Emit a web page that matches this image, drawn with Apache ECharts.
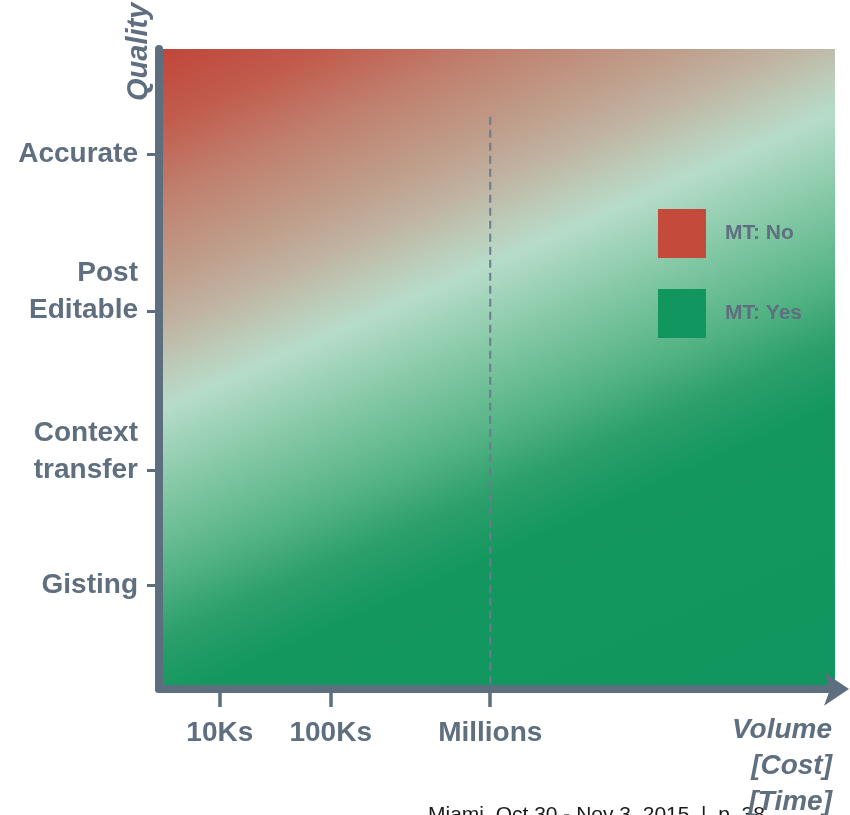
<!DOCTYPE html>
<html>
<head>
<meta charset="utf-8">
<script src="https://cdn.jsdelivr.net/npm/echarts@6/dist/echarts.min.js"></script>
<style>
html,body{margin:0;padding:0;background:#fff;}
#chart{width:850px;height:815px;}
</style>
</head>
<body>
<div id="chart"></div>
<script>
// ---- data ----
var xTickValues = [9, 25.4, 49];
var xTickLabels = ['10Ks', '100Ks', 'Millions'];
var yTickValues = [16.25, 34.2, 59.1, 83.6];
var yTickLabels = ['Gisting', 'Context\ntransfer', 'Post\nEditable', 'Accurate'];
var xExtent = [0, 100];
var yExtent = [0, 100];
var legendNames = ['MT: No', 'MT: Yes'];
var legendColors = ['#c44a3c', '#11965f'];
var dividerX = [49, 49];
var dividerY = [89.4, 0];
var footerText = 'Miami, Oct 30 - Nov 3, 2015  |  p. 38';

var AXIS = '#5d6e7f';
var TXT = '#5f6f80';
var FONT = '"Liberation Sans", Arial, sans-serif';

var bgGradient = new echarts.graphic.LinearGradient(0, 0, 0.512, 1.227, [
  {offset: 0.00, color: '#c1453a'},
  {offset: 0.08, color: '#c15c4d'},
  {offset: 0.16, color: '#c0806e'},
  {offset: 0.25, color: '#bfa08d'},
  {offset: 0.30, color: '#c0b4a2'},
  {offset: 0.345, color: '#bccbb8'},
  {offset: 0.385, color: '#b6dcc9'},
  {offset: 0.47, color: '#86c9a7'},
  {offset: 0.56, color: '#56b486'},
  {offset: 0.63, color: '#2c9f6b'},
  {offset: 0.70, color: '#13975f'},
  {offset: 1.00, color: '#12965f'}
]);

var chart = echarts.init(document.getElementById('chart'), null, {renderer: 'canvas'});

var option = {
  animation: false,
  textStyle: {fontFamily: FONT},
  title: {
    text: footerText,
    left: 428,
    top: 805,
    padding: 0,
    textStyle: {fontSize: 21, fontWeight: 'normal', color: '#1a1a1a', fontFamily: FONT}
  },
  legend: {
    data: legendNames,
    orient: 'vertical',
    left: 658,
    top: 209,
    padding: 0,
    icon: 'rect',
    itemWidth: 48,
    itemHeight: 49,
    itemGap: 31,
    selectedMode: false,
    textStyle: {fontSize: 21, fontWeight: 'bold', color: TXT, fontFamily: FONT, padding: [9, 0, 0, 14]}
  },
  grid: {left: 159, right: 15, top: 49, bottom: 126, containLabel: false, outerBoundsMode: 'none'},
  xAxis: {
    type: 'value',
    min: xExtent[0],
    max: xExtent[1],
    z: 10,
    splitLine: {show: false},
    name: 'Volume\n[Cost]\n[Time]',
    nameLocation: 'end',
    nameGap: -3,
    nameTextStyle: {
      fontSize: 28, fontWeight: 'bold', fontStyle: 'italic', color: TXT, fontFamily: FONT,
      align: 'right', verticalAlign: 'top', lineHeight: 36, padding: [23, 0, 0, 0]
    },
    axisLine: {
      show: true,
      symbol: ['none', 'arrow'],
      symbolSize: [25, 25],
      symbolOffset: [0, 14],
      lineStyle: {color: AXIS, width: 8, cap: 'round'}
    },
    axisTick: {show: true, customValues: xTickValues, length: 18, lineStyle: {color: AXIS, width: 3.5}},
    axisLabel: {
      show: true,
      customValues: xTickValues,
      margin: 30,
      fontSize: 28, fontWeight: 'bold', color: TXT, fontFamily: FONT,
      formatter: function (v) { var i = xTickValues.indexOf(v); return i >= 0 ? xTickLabels[i] : ''; }
    }
  },
  yAxis: {
    type: 'value',
    min: yExtent[0],
    max: yExtent[1],
    z: 10,
    splitLine: {show: false},
    name: 'Quality',
    nameLocation: 'end',
    nameRotate: 90,
    nameGap: -52,
    nameTextStyle: {
      fontSize: 29, fontWeight: 'bold', fontStyle: 'italic', color: TXT, fontFamily: FONT,
      align: 'left', verticalAlign: 'bottom', padding: [0, 0, 6, 0]
    },
    axisLine: {show: true, lineStyle: {color: AXIS, width: 8, cap: 'round'}},
    axisTick: {show: true, customValues: yTickValues, length: 12, lineStyle: {color: AXIS, width: 3}},
    axisLabel: {
      show: true,
      customValues: yTickValues,
      margin: 21,
      align: 'right',
      formatter: function (v) {
        var i = yTickValues.indexOf(v);
        if (i < 0) return '';
        var parts = yTickLabels[i].split('\n');
        if (parts.length === 1) return '{a|' + parts[0] + '}';
        return '{a|' + parts[0] + '}\n{a|' + parts[1] + '}\n{a| }';
      },
      rich: {a: {fontSize: 28, fontWeight: 'bold', color: TXT, fontFamily: FONT, lineHeight: 37, align: 'right'}}
    }
  },
  series: [
    {
      name: 'background',
      type: 'custom',
      z: 1,
      silent: true,
      data: [[xExtent[0], yExtent[1], xExtent[1], yExtent[0]]],
      renderItem: function (params, api) {
        var p1 = api.coord([api.value(0), api.value(1)]);
        var p2 = api.coord([api.value(2), api.value(3)]);
        return {
          type: 'rect',
          shape: {x: p1[0], y: p1[1], width: p2[0] - p1[0], height: p2[1] - p1[1]},
          style: {fill: bgGradient}
        };
      }
    },
    {
      name: 'divider',
      type: 'line',
      z: 3,
      silent: true,
      symbol: 'none',
      data: [[dividerX[0], dividerY[0]], [dividerX[1], dividerY[1]]],
      lineStyle: {color: '#6b7c8d', width: 2, type: [8, 5]}
    },
    {name: legendNames[0], type: 'scatter', data: [], itemStyle: {color: legendColors[0], opacity: 1}},
    {name: legendNames[1], type: 'scatter', data: [], itemStyle: {color: legendColors[1], opacity: 1}}
  ]
};
chart.setOption(option);
</script>
</body>
</html>
